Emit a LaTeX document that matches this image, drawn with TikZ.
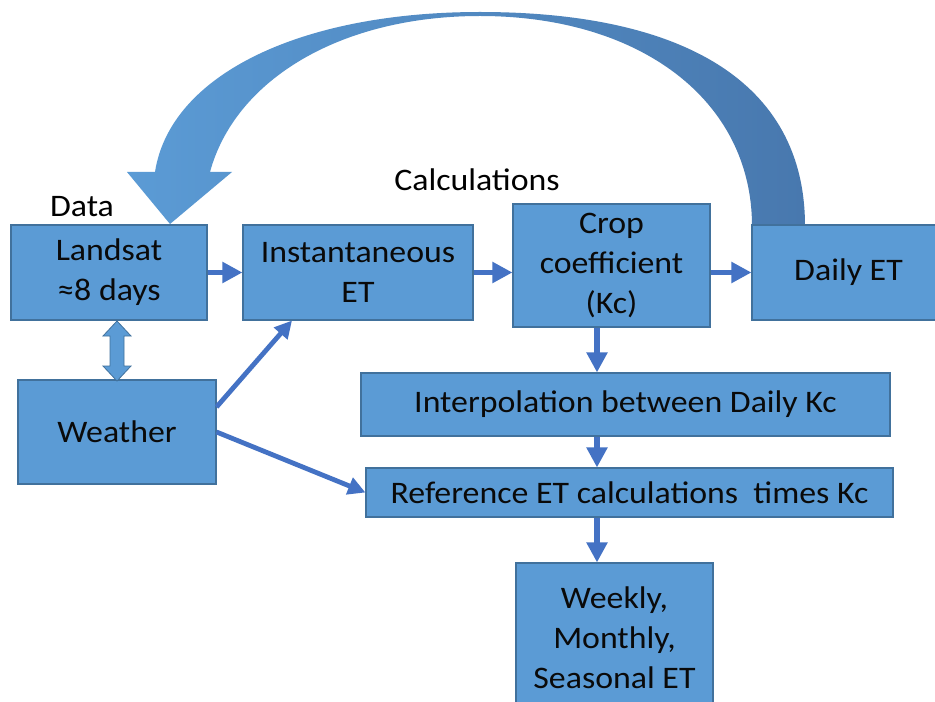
\documentclass[tikz,border=0pt]{standalone}
\usepackage{fontspec}
\setmainfont{Carlito}[FakeStretch=1.08]
\usetikzlibrary{arrows.meta}
\definecolor{boxfill}{HTML}{5B9BD5}
\definecolor{boxedge}{HTML}{41719C}
\definecolor{connc}{HTML}{4472C4}
\definecolor{arcdark}{HTML}{4878AE}
\definecolor{txt}{HTML}{0A0A0A}
\begin{document}
\begin{tikzpicture}[x=0.75pt,y=-0.75pt,
  stepbox/.style={draw=boxedge,fill=boxfill,line width=0.8pt,text=txt,align=center,inner sep=0pt,
    font=\fontsize{23.5}{30}\selectfont},
  lbl/.style={text=black,inner sep=0pt,font=\fontsize{23.5}{30}\selectfont},
  conn/.style={draw=connc,line width=4.2pt,-{Triangle[length=15pt,width=15pt]}},
  dconn/.style={draw=connc,line width=3.6pt,-{Triangle[length=13pt,width=13pt]}}]
\clip (0,0) rectangle (935,702);
\fill[white] (0,0) rectangle (935,702);

% big curved return arrow (Daily ET -> Landsat)
\shade[left color=boxfill,right color=arcdark]
  (805,226) .. controls (805,80) and (680,12) .. (480,12)
  .. controls (300,12) and (170,75) .. (155,172)
  -- (127,172) -- (170,224) -- (232,172) -- (210,172)
  .. controls (235,80) and (340,16) .. (480,16)
  .. controls (640,16) and (752,100) .. (752,226) -- cycle;

% nodes
\node[stepbox,minimum width=147pt,minimum height=71.25pt] (landsat) at (109,272.5) {Landsat\\≈8 days};
\node[stepbox,minimum width=172.5pt,minimum height=71.25pt] (inst) at (358,272.5) {Instantaneous\\ET};
\node[stepbox,minimum width=147.75pt,minimum height=92.25pt] (crop) at (611.5,265.5) {Crop\\coefficient\\(Kc)};
\node[stepbox,minimum width=144.75pt,minimum height=71.25pt] (daily) at (848.5,272.5) {Daily ET};
\node[stepbox,minimum width=148.5pt,minimum height=78pt] (weather) at (117,432) {Weather};
\node[stepbox,minimum width=396.75pt,minimum height=47.25pt] (interp) at (625.5,404.5) {Interpolation between Daily Kc};
\node[stepbox,minimum width=395.25pt,minimum height=36.75pt] (ref) at (629.5,492.5) {Reference ET calculations\ \ times Kc};
\node[stepbox,minimum width=147.75pt,minimum height=111.75pt] (weekly) at (614.5,637.5) {Weekly,\\Monthly,\\Seasonal ET};

\node[lbl] (data) at (82,207) {Data};
\node[lbl] (calc) at (477,180) {Calculations};

% double block arrow Landsat <-> Weather
\filldraw[fill=boxfill,draw=boxedge,line width=0.6pt]
  (117,321) -- (131,336) -- (124,336) -- (124,366) -- (131,366) -- (117,381)
  -- (103,366) -- (110,366) -- (110,336) -- (103,336) -- cycle;

% connectors
\coordinate (col) at (597,0);
\draw[conn] (landsat.east) -- (inst.west);
\draw[conn] (inst.east) -- (inst.east -| crop.west);
\draw[conn] (crop.east |- daily.west) -- (daily.west);
\draw[conn] (crop.south -| col) -- (interp.north -| col);
\draw[conn] (interp.south -| col) -- (ref.north -| col);
\draw[conn] (ref.south -| col) -- (weekly.north -| col);
\draw[dconn] ([yshift=18.75pt]weather.east) -- ([xshift=-49.5pt]inst.south);
\draw[dconn] (weather.east) -- (ref.west);
\end{tikzpicture}
\end{document}
